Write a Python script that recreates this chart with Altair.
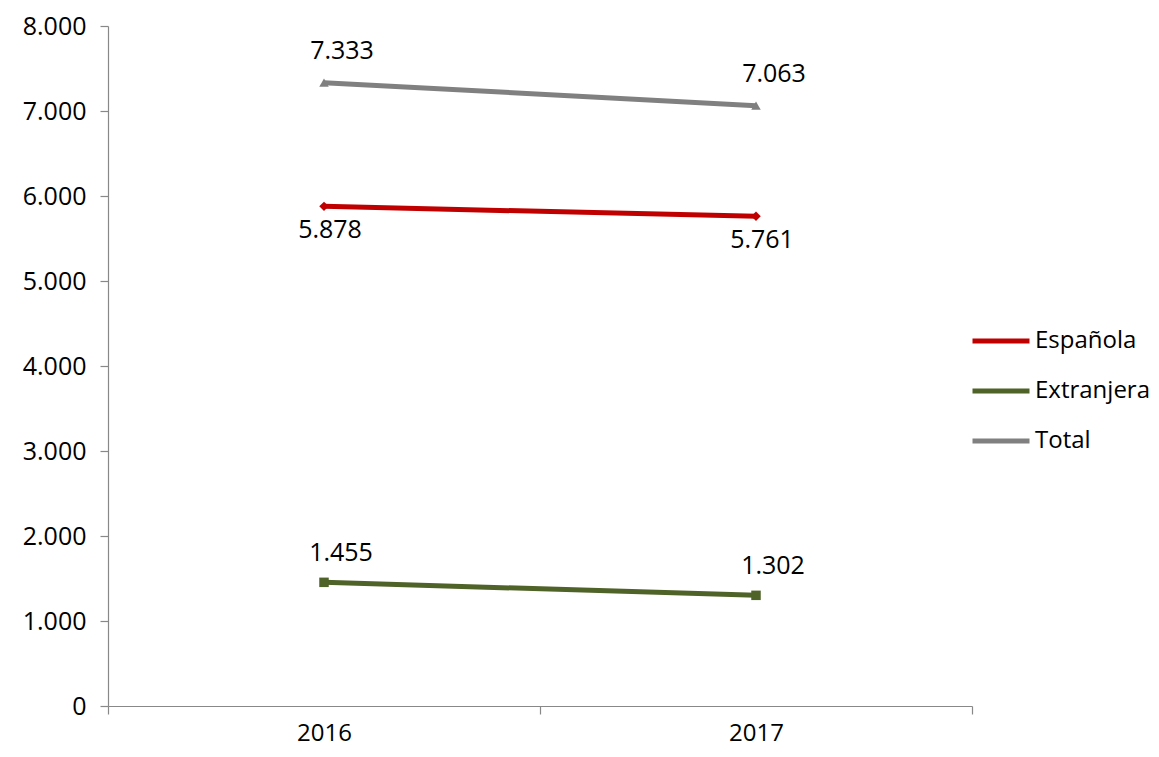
import altair as alt
import pandas as pd

years = ["2016", "2017"]
series = ["Española", "Extranjera", "Total"]
espanola = [5878, 5761]
extranjera = [1455, 1302]
total = [7333, 7063]

rows = []
for s, vals in zip(series, [espanola, extranjera, total]):
    for y, v in zip(years, vals):
        rows.append({"year": y, "serie": s, "value": v})
df = pd.DataFrame(rows)

FONT = "Open Sans"
colors = ["#C00000", "#4F6228", "#808080"]
shapes = ["diamond", "square", "triangle-up"]
color = alt.Color("serie:N", scale=alt.Scale(domain=series, range=colors),
                  legend=alt.Legend(title=None, orient="none", legendX=862, legendY=284,
                                    symbolType="stroke", symbolSize=3249, symbolStrokeWidth=5,
                                    labelFont=FONT, labelFontSize=24, labelColor="#000000",
                                    labelOffset=3, rowPadding=7))

x = alt.X("year:O", bandPosition=0.5,
          scale=alt.Scale(type="band", domain=years, paddingInner=0, paddingOuter=0),
          axis=alt.Axis(title=None, labelAngle=0, tickBand="extent", labelFont=FONT,
                        labelFontSize=24, labelColor="#000000", labelPadding=7,
                        domainColor="#888888", tickColor="#888888", tickSize=8, domainWidth=1.2,
                        tickWidth=1.2))
y = alt.Y("value:Q", scale=alt.Scale(domain=[0, 8000], nice=False),
          axis=alt.Axis(title=None, values=list(range(0, 8001, 1000)), grid=False,
                        labelExpr="replace(format(datum.value, ','), /,/g, '.')",
                        labelFont=FONT, labelFontSize=25, labelColor="#000000", labelPadding=14,
                        domainColor="#888888", tickColor="#888888", tickSize=8, domainWidth=1.2,
                        tickWidth=1.2))

base = alt.Chart(df)
lines = base.mark_line(strokeWidth=5).encode(x=x, y=y, color=color)

pts = [
    base.transform_filter(alt.datum.serie == s).mark_point(
        filled=True, opacity=1, size=90, shape=sh, color=c).encode(x=x, y=y)
    for s, sh, c in zip(series, shapes, colors)
]

def lab(name, dx, dy):
    return base.transform_filter(alt.datum.serie == name).mark_text(
        font=FONT, fontSize=25, color="#000000", dx=dx, dy=dy).encode(
        x=x, y=y, text=alt.Text("label:N")).transform_calculate(
        label="replace(format(datum.value, ','), /,/g, '.')")

labels = [lab("Total", 18, -32), lab("Española", 6, 24), lab("Extranjera", 17, -29)]

chart = alt.layer(lines, *pts, *labels).properties(
    width=864, height=680,
    background="#ffffff",
    autosize=alt.AutoSizeParams(type="none"),
    padding={"left": 100, "top": 18, "right": 179, "bottom": 43},
).configure_view(stroke=None, strokeWidth=0)

chart.save("out.html", embed_options={"renderer": "svg", "actions": False})
